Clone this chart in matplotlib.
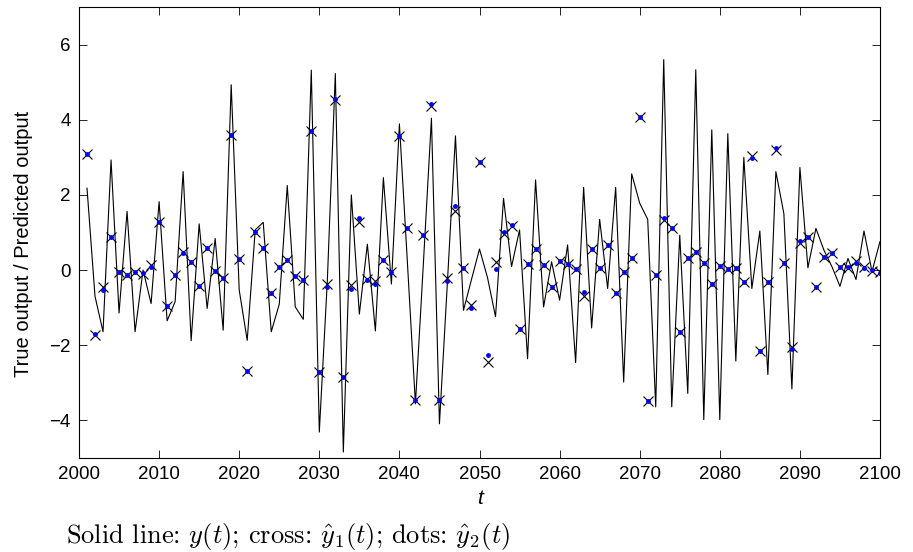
import numpy as np
import matplotlib
matplotlib.use("Agg")
import matplotlib.pyplot as plt

# time axis
t = np.arange(2001, 2101)

# true output y(t)
y_true = [
    2.18, -0.70, -1.64, 2.93, -1.14, 1.56, -1.64, 0.00, -0.89, 1.82,
    -1.35, -0.84, 2.62, -1.88, 1.23, -1.02, 0.84, -1.60, 4.93, -0.53,
    -1.87, 1.07, 1.27, -1.64, -0.91, 2.25, -0.98, -1.31, 5.32, -4.31,
    -0.30, 5.23, -4.84, 2.00, -1.17, 0.69, -1.62, 2.46, -0.37, 3.89,
    0.20, -3.56, 0.20, 4.04, -4.09, -0.30, 3.57, -1.07, -0.25, 0.56,
    -0.20, -1.24, 1.91, 0.09, 1.07, -2.36, 2.40, -0.98, 0.22, -0.80,
    0.67, -2.46, 2.20, -1.54, 1.35, -0.49, 2.20, -2.98, 2.56, 1.78,
    1.35, -3.64, 5.60, -3.64, 0.93, -3.28, 5.33, -3.98, 3.73, -3.98,
    3.63, -2.42, 3.00, -0.49, 1.04, -2.78, 2.62, 1.50, -3.16, 2.73,
    0.06, 1.11, 0.53, 0.09, -0.43, 0.31, -0.25, 1.04, -0.04, 0.76,
]

# predictor 1 (crosses)
y_hat1 = [
    3.09, -1.73, -0.44, 0.89, -0.06, -0.13, -0.06, -0.10, 0.13, 1.27,
    -0.96, -0.14, 0.49, 0.22, -0.42, 0.58, -0.02, -0.21, 3.59, 0.30,
    -2.68, 1.02, 0.60, -0.62, 0.09, 0.28, -0.15, -0.27, 3.69, -2.71,
    -0.37, 4.52, -2.84, -0.40, 1.27, -0.25, -0.28, 0.28, -0.04, 3.56,
    1.11, -3.47, 0.93, 4.36, -3.45, -0.22, 1.57, 0.06, -0.93, 2.87,
    -2.44, 0.22, 0.96, 1.18, -1.57, 0.15, 0.55, 0.13, -0.46, 0.25,
    0.15, 0.03, -0.69, 0.56, 0.06, 0.67, -0.60, -0.04, 0.31, 4.07,
    -3.48, -0.13, 1.32, 1.13, -1.66, 0.33, 0.47, 0.18, -0.36, 0.11,
    0.04, 0.06, -0.33, 3.04, -2.16, -0.33, 3.20, 0.18, -2.04, 0.73,
    0.89, -0.46, 0.36, 0.46, 0.07, 0.05, 0.24, 0.07, -0.02, -0.06,
]

# predictor 2 (dots)
y_hat2 = [
    3.09, -1.71, -0.52, 0.89, -0.06, -0.13, -0.06, -0.08, 0.07, 1.27,
    -0.96, -0.14, 0.46, 0.22, -0.42, 0.58, -0.02, -0.21, 3.59, 0.30,
    -2.68, 1.02, 0.60, -0.62, 0.09, 0.28, -0.17, -0.27, 3.69, -2.71,
    -0.46, 4.56, -2.84, -0.51, 1.38, -0.27, -0.36, 0.28, -0.04, 3.56,
    1.11, -3.47, 0.93, 4.43, -3.45, -0.29, 1.71, 0.06, -1.00, 2.87,
    -2.27, 0.04, 1.02, 1.20, -1.57, 0.15, 0.55, 0.13, -0.46, 0.25,
    0.15, 0.03, -0.58, 0.56, 0.06, 0.67, -0.60, -0.04, 0.31, 4.07,
    -3.48, -0.13, 1.38, 1.13, -1.66, 0.33, 0.47, 0.18, -0.36, 0.11,
    0.04, 0.06, -0.33, 2.98, -2.16, -0.33, 3.24, 0.18, -2.09, 0.78,
    0.89, -0.46, 0.36, 0.46, 0.07, 0.09, 0.18, 0.06, 0.00, -0.09,
]

x_ticks = np.arange(2000, 2101, 10)
y_ticks = [-4, -2, 0, 2, 4, 6]

plt.rcParams['font.family'] = ['Liberation Sans', 'DejaVu Sans']
plt.rcParams['mathtext.fontset'] = 'cm'

W, H = 913, 552
fig = plt.figure(figsize=(W / 100, H / 100), dpi=100)
ax = fig.add_axes([79 / W, (H - 458) / H, 801 / W, 451 / H])

ax.plot(t, y_true, color='black', linewidth=0.8)
ax.plot(t, y_hat1, linestyle='none', marker='x', color='black',
        markersize=7.5, markeredgewidth=0.8)
ax.plot(t, y_hat2, linestyle='none', marker='o', color='blue',
        markersize=3.5, markeredgewidth=0)

ax.set_xlim(2000, 2100)
ax.set_ylim(-5, 7)
ax.set_xticks(x_ticks)
ax.set_yticks(y_ticks)
ax.tick_params(direction='in', length=5.5, width=0.6, top=True, right=True,
               labelsize=13.5, pad=6)
for s in ax.spines.values():
    s.set_linewidth(0.8)

ax.set_ylabel('True output / Predicted output', fontsize=14.5)
ax.yaxis.set_label_coords(-0.058, 0.475)
ax.set_xlabel('t', fontsize=15, fontstyle='italic', labelpad=4)

fig.text(66 / W, 1 - 537 / H,
         r'Solid line: $y(t)$; cross: $\hat{y}_1(t)$; dots: $\hat{y}_2(t)$',
         fontsize=19, family='cmr10', va='center', ha='left')

fig.savefig('out.png', dpi=100)
